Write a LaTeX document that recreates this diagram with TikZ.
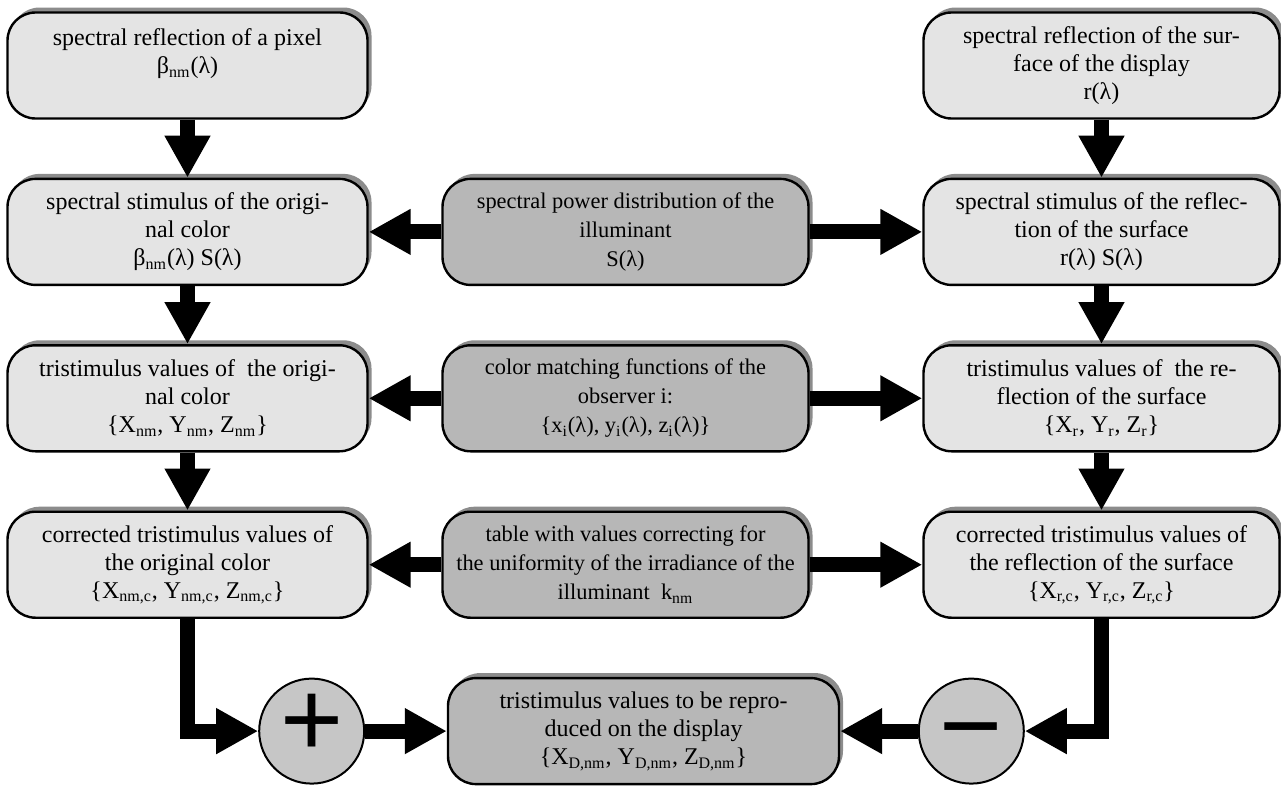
\documentclass[tikz,border=0pt]{standalone}
\usepackage{fontspec}
\setmainfont{Liberation Serif}
\newfontfamily\signfont{Liberation Sans}
\definecolor{BoxLight}{HTML}{E4E4E4}
\definecolor{BoxDark}{HTML}{B7B7B7}
\definecolor{SignGray}{HTML}{C6C6C6}
\definecolor{ShadeGray}{HTML}{8C8C8C}
\usetikzlibrary{arrows.meta,positioning,shadows}

\begin{document}
\begin{tikzpicture}[
  node distance=29pt,
  box/.style={draw,line width=1.2pt,rounded corners=14pt,align=center,minimum height=53pt,inner sep=2pt,
    font=\fontsize{12}{14}\selectfont,
    drop shadow={shadow xshift=2pt,shadow yshift=2.5pt,fill=ShadeGray,opacity=1}},
  leftbox/.style={box,fill=BoxLight,minimum width=180pt},
  rightbox/.style={box,fill=BoxLight,minimum width=178pt},
  midbox/.style={box,fill=BoxDark,minimum width=183pt,font=\fontsize{11.2}{14.5}\selectfont},
  sign/.style={circle,draw,line width=1pt,fill=SignGray,minimum size=52.5pt,inner sep=0pt,
    font=\signfont\fontsize{54}{54}\selectfont,text depth=0pt},
  arr/.style={-{Triangle[width=21.5pt,length=21pt]},line width=7.5pt}
]
\useasboundingbox (0,0) rectangle (640.5pt,-393.5pt);

% original colour (left)
\node[leftbox] (pixel) at (93.75pt,-32.75pt) {spectral reflection of a pixel\\β\textsubscript{nm}(λ)\\\mbox{}};
\node[leftbox,below=of pixel] (stimorig) {spectral stimulus of the origi-\\nal color\\β\textsubscript{nm}(λ) S(λ)};
\node[leftbox,below=of stimorig] (tristorig) {tristimulus values of\ \ the origi-\\nal color\\\{X\textsubscript{nm}, Y\textsubscript{nm}, Z\textsubscript{nm}\}};
\node[leftbox,below=of tristorig] (corrorig) {corrected tristimulus values of\\the original color\\\{X\textsubscript{nm,c}, Y\textsubscript{nm,c}, Z\textsubscript{nm,c}\}};

% illuminant and observer (middle)
\node[midbox,right=36.3pt of stimorig] (illum) {spectral power distribution of the\\illuminant\\S(λ)};
\node[midbox,right=36.3pt of tristorig] (cmf) {color matching functions of the\\observer i:\\\{x\textsubscript{i}(λ), y\textsubscript{i}(λ), z\textsubscript{i}(λ)\}};
\node[midbox,right=36.3pt of corrorig] (unif) {table with values correcting for\\the uniformity of the irradiance of the\\illuminant\ \ k\textsubscript{nm}};

% display surface (right)
\node[rightbox,right=56.3pt of illum] (stimrefl) {spectral stimulus of the reflec-\\tion of the surface\\r(λ) S(λ)};
\node[rightbox,above=of stimrefl] (surf) {spectral reflection of the sur-\\face of the display\\r(λ)};
\node[rightbox,below=of stimrefl] (tristrefl) {tristimulus values of\ \ the re-\\flection of the surface\\\{X\textsubscript{r}, Y\textsubscript{r}, Z\textsubscript{r}\}};
\node[rightbox,below=of tristrefl] (corrrefl) {corrected tristimulus values of\\the reflection of the surface\\\{X\textsubscript{r,c}, Y\textsubscript{r,c}, Z\textsubscript{r,c}\}};

% result
\node[midbox,minimum width=195.5pt,font=\fontsize{12}{14}\selectfont,below=of unif,xshift=9pt] (target) {tristimulus values to be repro-\\duced on the display\\\{X\textsubscript{D,nm}, Y\textsubscript{D,nm}, Z\textsubscript{D,nm}\}};
\node[sign,text height=25pt,left=40.8pt of target] (plus) {+};
\node[sign,text height=31pt,right=38.8pt of target] (minus) {−};

\draw[arr] (pixel) -- (stimorig);
\draw[arr] (stimorig) -- (tristorig);
\draw[arr] (tristorig) -- (corrorig);
\draw[arr] (surf) -- (stimrefl);
\draw[arr] (stimrefl) -- (tristrefl);
\draw[arr] (tristrefl) -- (corrrefl);
\draw[arr] (illum) -- (stimorig);
\draw[arr] (illum) -- (stimrefl);
\draw[arr] (cmf) -- (tristorig);
\draw[arr] (cmf) -- (tristrefl);
\draw[arr] (unif) -- (corrorig);
\draw[arr] (unif) -- (corrrefl);
\draw[arr] (corrorig) |- (plus);
\draw[arr] (corrrefl) |- (minus);
\draw[arr] (plus) -- (target);
\draw[arr] (minus) -- (target);
\end{tikzpicture}
\end{document}
